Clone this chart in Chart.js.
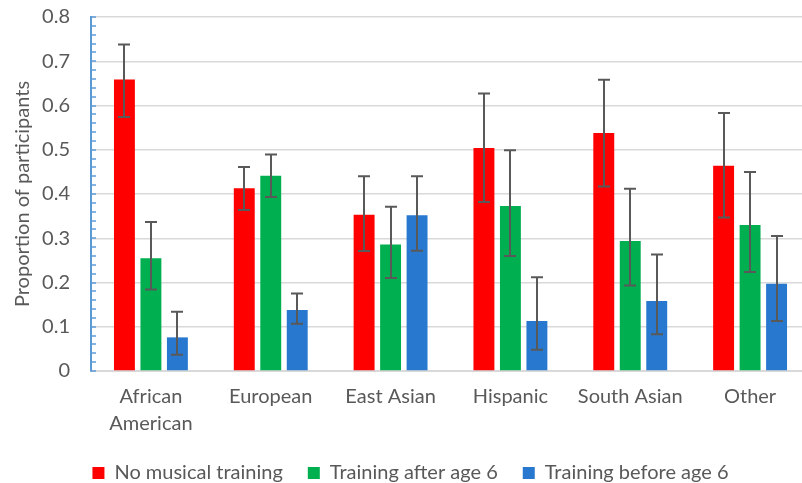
<!DOCTYPE html>
<html>
<head>
<meta charset="utf-8">
<script src="https://cdn.jsdelivr.net/npm/chart.js@4/dist/chart.umd.min.js"></script>
<style>
  html, body { margin: 0; padding: 0; background: #fff; overflow: hidden; }
  #wrap { width: 802px; height: 483px; overflow: hidden; }
</style>
</head>
<body>
<!-- the source picture is cropped at the right and bottom, so the canvas is a little larger than the window -->
<div id="wrap"><canvas id="chart" width="810" height="493"></canvas></div>
<script>
// categories and series
const categories = [['African', 'American'], 'European', 'East Asian', 'Hispanic', 'South Asian', 'Other'];
const seriesNames = ['No musical training', 'Training after age 6', 'Training before age 6'];

const noTraining = [0.659, 0.413, 0.353, 0.504, 0.538, 0.464];
const noTrainingLow = [0.574, 0.364, 0.271, 0.382, 0.417, 0.347];
const noTrainingHigh = [0.738, 0.461, 0.440, 0.627, 0.658, 0.583];

const afterSix = [0.255, 0.441, 0.286, 0.373, 0.294, 0.330];
const afterSixLow = [0.184, 0.393, 0.210, 0.260, 0.193, 0.224];
const afterSixHigh = [0.337, 0.489, 0.371, 0.499, 0.412, 0.450];

const beforeSix = [0.076, 0.138, 0.352, 0.113, 0.158, 0.197];
const beforeSixLow = [0.037, 0.107, 0.272, 0.048, 0.083, 0.113];
const beforeSixHigh = [0.134, 0.175, 0.440, 0.212, 0.263, 0.305];

const yTicksMax = 0.8;
const yStep = 0.1;
const yMinorStep = 0.02;

const textColor = '#595959';
const fontFamily = 'Lato, "Open Sans", sans-serif';

// error bars, drawn through the y scale
const errorBars = {
  id: 'errorBars',
  afterDatasetsDraw(chart) {
    const ctx = chart.ctx;
    const y = chart.scales.y;
    ctx.save();
    ctx.strokeStyle = '#595959';
    ctx.lineWidth = 2;
    chart.data.datasets.forEach((ds, i) => {
      const meta = chart.getDatasetMeta(i);
      meta.data.forEach((bar, j) => {
        const top = y.getPixelForValue(ds.errHigh[j]);
        const bot = y.getPixelForValue(ds.errLow[j]);
        const x = Math.round(bar.x);
        ctx.beginPath();
        ctx.moveTo(x, top); ctx.lineTo(x, bot);
        ctx.moveTo(x - 6, top); ctx.lineTo(x + 6, top);
        ctx.moveTo(x - 6, bot); ctx.lineTo(x + 6, bot);
        ctx.stroke();
      });
    });
    ctx.restore();
  }
};

// small inner tick marks on the blue value axis
const minorTicks = {
  id: 'minorTicks',
  afterDraw(chart) {
    const ctx = chart.ctx;
    const y = chart.scales.y;
    const x0 = chart.chartArea.left;
    ctx.save();
    ctx.strokeStyle = '#5B9BD5';
    ctx.lineWidth = 1.5;
    for (let k = 0; k <= Math.round(yTicksMax / yMinorStep); k++) {
      const py = Math.round(y.getPixelForValue(k * yMinorStep));
      ctx.beginPath();
      ctx.moveTo(x0, py); ctx.lineTo(x0 + 5, py);
      ctx.stroke();
    }
    ctx.restore();
  }
};

new Chart(document.getElementById('chart'), {
  type: 'bar',
  data: {
    labels: categories,
    datasets: [
      { label: seriesNames[0], data: noTraining, errLow: noTrainingLow, errHigh: noTrainingHigh, backgroundColor: '#FF0000' },
      { label: seriesNames[1], data: afterSix, errLow: afterSixLow, errHigh: afterSixHigh, backgroundColor: '#00B050' },
      { label: seriesNames[2], data: beforeSix, errLow: beforeSixLow, errHigh: beforeSixHigh, backgroundColor: '#2878CF' }
    ]
  },
  options: {
    responsive: false,
    animation: false,
    layout: { padding: { top: 5, right: 0, left: 11, bottom: 0 } },
    datasets: { bar: { categoryPercentage: 0.663, barPercentage: 0.79 } },
    plugins: {
      tooltip: { enabled: false },
      legend: {
        position: 'bottom',
        labels: {
          color: textColor,
          font: { family: fontFamily, size: 20 },
          boxWidth: 12,
          boxHeight: 12,
          padding: 25
        }
      }
    },
    scales: {
      x: {
        grid: { display: false, drawTicks: false },
        border: { color: '#D9D9D9', width: 2 },
        ticks: { color: textColor, font: { family: fontFamily, size: 20, lineHeight: 1.35 }, padding: 12 },
        afterFit(scale) { scale.height -= 11; }
      },
      y: {
        min: 0,
        max: yTicksMax,
        ticks: { stepSize: yStep, color: textColor, font: { family: fontFamily, size: 20 }, padding: 5 },
        grid: { color: '#D9D9D9', lineWidth: 1.5, drawTicks: true, tickLength: 16, tickColor: 'rgba(0,0,0,0)' },
        border: { color: '#5B9BD5', width: 2 },
        title: { display: true, text: 'Proportion of participants', color: textColor, font: { family: fontFamily, size: 20 }, padding: 0 },
        afterFit(scale) { scale.width = 80; }
      }
    }
  },
  plugins: [errorBars, minorTicks]
});
</script>
</body>
</html>
